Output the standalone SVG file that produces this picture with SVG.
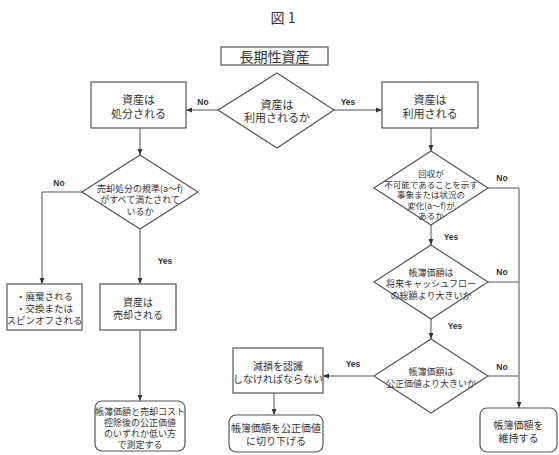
<svg xmlns="http://www.w3.org/2000/svg" width="559" height="455" viewBox="0 0 559 455">
<defs>
<style>
.bx{fill:#fff;stroke:#555;stroke-width:1.2}
.ln{fill:none;stroke:#555;stroke-width:1}
.t{font-family:"Noto Sans CJK JP","Noto Sans CJK SC",sans-serif;fill:#333;text-anchor:middle;dominant-baseline:central}
.l{font-family:"Liberation Sans",Arial,sans-serif;font-size:8.5px;fill:#333;font-weight:bold;text-anchor:middle;dominant-baseline:central}
</style>
<marker id="ar" viewBox="0 0 10 10" refX="10" refY="5" markerWidth="6" markerHeight="6" orient="auto" markerUnits="userSpaceOnUse">
<path d="M0,1 L10,5 L0,9 z" fill="#333"/>
</marker>
</defs>
<rect width="559" height="455" fill="#fff"/>
<text class="t" x="283" y="17" font-size="14">図 1</text>

<g id="connectors">
<line class="ln" x1="218" y1="110" x2="186" y2="110" marker-end="url(#ar)"/>
<line class="ln" x1="334" y1="110" x2="382" y2="110" marker-end="url(#ar)"/>
<line class="ln" x1="140" y1="128" x2="140" y2="155" marker-end="url(#ar)"/>
<line class="ln" x1="431" y1="128" x2="431" y2="151" marker-end="url(#ar)"/>
<polyline class="ln" points="83,192 42,192 42,284" marker-end="url(#ar)"/>
<line class="ln" x1="140" y1="229" x2="140" y2="284" marker-end="url(#ar)"/>
<line class="ln" x1="140" y1="330" x2="140" y2="401" marker-end="url(#ar)"/>
<polyline class="ln" points="488,188 519,188 519,408" marker-end="url(#ar)"/>
<line class="ln" x1="488" y1="282" x2="519" y2="282"/>
<line class="ln" x1="488" y1="376" x2="519" y2="376"/>
<line class="ln" x1="431" y1="225" x2="431" y2="245" marker-end="url(#ar)"/>
<line class="ln" x1="431" y1="319" x2="431" y2="339" marker-end="url(#ar)"/>
<line class="ln" x1="373" y1="376" x2="323" y2="376" marker-end="url(#ar)"/>
<line class="ln" x1="274" y1="393" x2="274" y2="415" marker-end="url(#ar)"/>
<text class="l" x="203" y="102">No</text>
<text class="l" x="348" y="102">Yes</text>
<text class="l" x="59" y="183">No</text>
<text class="l" x="165" y="261">Yes</text>
<text class="l" x="502" y="178">No</text>
<text class="l" x="451" y="237">Yes</text>
<text class="l" x="502" y="272">No</text>
<text class="l" x="455" y="326">Yes</text>
<text class="l" x="502" y="367">No</text>
<text class="l" x="353" y="364">Yes</text>
</g>

<g id="n-start">
<rect class="bx" x="221" y="47" width="107" height="18"/>
<text class="t" x="274.5" y="56" font-size="14">長期性資産</text>
</g>

<g id="n-d1">
<polygon class="bx" points="277,73 334,110 277,148 218,110"/>
<text class="t" x="277" y="104" font-size="11">資産は</text>
<text class="t" x="277" y="117" font-size="11">利用されるか</text>
</g>

<g id="n-dispose">
<rect class="bx" x="91" y="82" width="95" height="46"/>
<text class="t" x="138.5" y="99" font-size="11">資産は</text>
<text class="t" x="138.5" y="113" font-size="11">処分される</text>
</g>

<g id="n-use">
<rect class="bx" x="382" y="82" width="96" height="46"/>
<text class="t" x="430" y="99" font-size="11">資産は</text>
<text class="t" x="430" y="113" font-size="11">利用される</text>
</g>

<g id="n-d2">
<polygon class="bx" points="140,155 198,192 140,229 82,192"/>
<text class="t" x="140" y="188" font-size="9">売却処分の規準(a～f)</text>
<text class="t" x="140" y="199.5" font-size="9">がすべて満たされて</text>
<text class="t" x="140" y="211" font-size="9">いるか</text>
</g>

<g id="n-scrap">
<rect class="bx" x="7" y="284" width="75" height="46"/>
<text class="t" x="44.5" y="296" font-size="9.5">・廃棄される</text>
<text class="t" x="44.5" y="308" font-size="9.5">・交換または</text>
<text class="t" x="44.5" y="320" font-size="9.5">スピンオフされる</text>
</g>

<g id="n-sold">
<rect class="bx" x="100" y="284" width="76" height="46"/>
<text class="t" x="138" y="301" font-size="10">資産は</text>
<text class="t" x="138" y="314" font-size="10">売却される</text>
</g>

<g id="n-measure">
<rect class="bx" x="95" y="401" width="90" height="50" rx="7"/>
<text class="t" x="140" y="411" font-size="9">帳簿価額と売却コスト</text>
<text class="t" x="140" y="422" font-size="9">控除後の公正価値</text>
<text class="t" x="140" y="433" font-size="9">のいずれか低い方</text>
<text class="t" x="140" y="444" font-size="9">で測定する</text>
</g>

<g id="n-d3">
<polygon class="bx" points="431,151 488,188 431,225 374,188"/>
<text class="t" x="431" y="173" font-size="8.5">回収が</text>
<text class="t" x="431" y="183.5" font-size="8.5">不可能であることを示す</text>
<text class="t" x="431" y="194" font-size="8.5">事象または状況の</text>
<text class="t" x="431" y="204.5" font-size="8.5">変化(a～f)が</text>
<text class="t" x="431" y="215" font-size="8.5">あるか</text>
</g>

<g id="n-d4">
<polygon class="bx" points="431,245 488,282 431,319 374,282"/>
<text class="t" x="431" y="272" font-size="9">帳簿価額は</text>
<text class="t" x="431" y="283.5" font-size="9">将来キャッシュフロー</text>
<text class="t" x="431" y="295" font-size="9">の総額より大きいか</text>
</g>

<g id="n-d5">
<polygon class="bx" points="431,339 488,376 431,413 374,376"/>
<text class="t" x="431" y="371" font-size="9">帳簿価額は</text>
<text class="t" x="431" y="383" font-size="9">公正価値より大きいか</text>
</g>

<g id="n-impair">
<rect class="bx" x="233" y="348" width="90" height="45"/>
<text class="t" x="278" y="365" font-size="10">減損を認識</text>
<text class="t" x="278" y="378" font-size="10">しなければならない</text>
</g>

<g id="n-writedown">
<rect class="bx" x="229" y="415" width="94" height="37" rx="7"/>
<text class="t" x="276" y="427" font-size="10">帳簿価額を公正価値</text>
<text class="t" x="276" y="440" font-size="10">に切り下げる</text>
</g>

<g id="n-keep">
<rect class="bx" x="480" y="408" width="77" height="44" rx="7"/>
<text class="t" x="518.5" y="424" font-size="10">帳簿価額を</text>
<text class="t" x="518.5" y="437" font-size="10">維持する</text>
</g>
</svg>
